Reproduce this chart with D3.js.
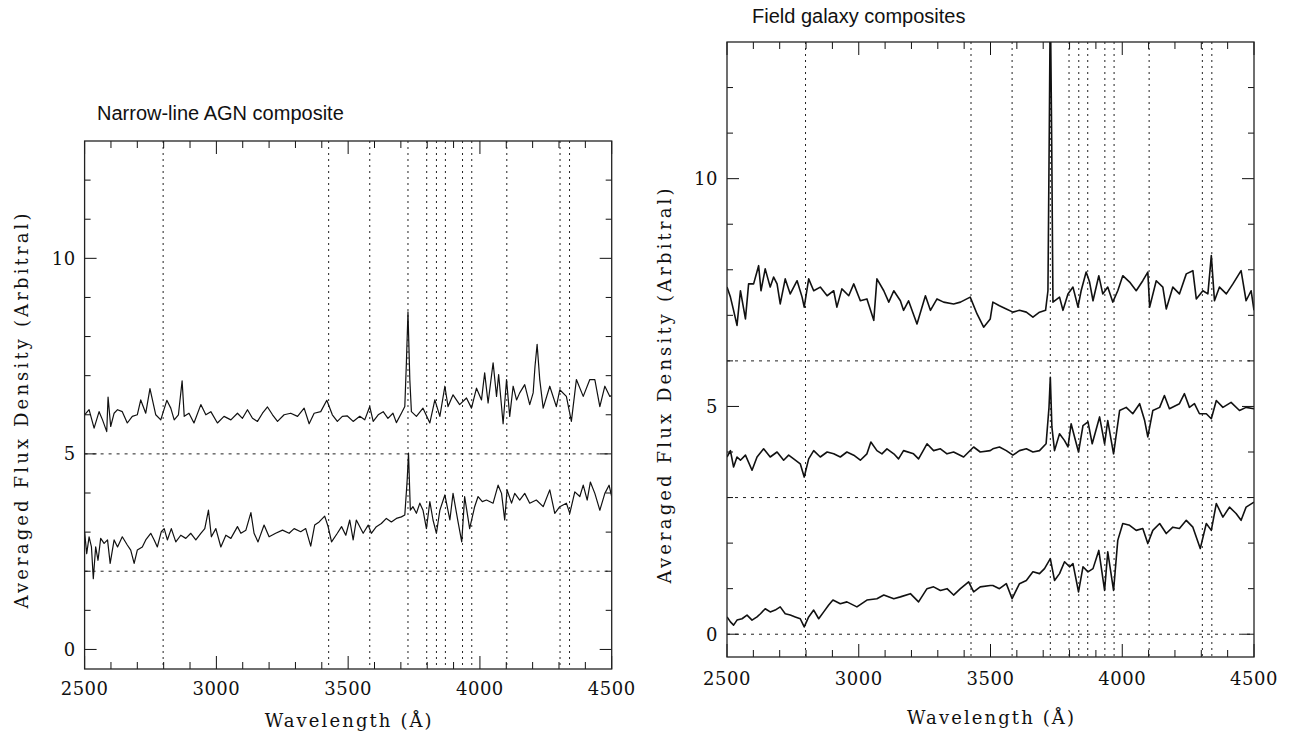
<!DOCTYPE html>
<html><head><meta charset="utf-8">
<script src="https://cdn.jsdelivr.net/npm/d3@7"></script>
<style>body{margin:0;background:#fff}svg{display:block}</style>
</head><body>
<svg id="c" width="1290" height="735"></svg>
<script>
// ---------- data ----------
const lineWavelengths = [2798, 3426, 3582, 3727, 3798, 3835, 3869, 3934, 3969, 4102, 4304, 4340];
const xTickLabels = [2500, 3000, 3500, 4000, 4500];
const yTickLabels = [0, 5, 10];
const agnOffsets = [5, 2];
const fieldOffsets = [6, 3, 0];
const titles = ["Narrow-line AGN composite", "Field galaxy composites"];

const agnUpper = [[2500,6.0],[2517,6.13],[2536,5.66],[2555,6.08],[2568,5.87],[2584,5.57],[2589,6.45],[2599,5.7],[2612,6.04],[2625,6.13],[2643,6.08],[2662,5.79],[2681,5.96],[2700,6.0],[2713,6.38],[2732,6.04],[2748,6.67],[2770,6.0],[2789,5.87],[2812,6.37],[2827,6.17],[2840,5.87],[2856,6.0],[2870,6.87],[2878,5.96],[2896,6.04],[2915,5.79],[2941,6.26],[2960,6.0],[2979,6.08],[3004,5.79],[3029,5.96],[3055,5.87],[3080,6.04],[3099,5.91],[3118,6.13],[3137,5.91],[3156,5.83],[3175,6.04],[3194,6.2],[3213,6.0],[3232,5.83],[3257,6.0],[3282,6.04],[3308,5.96],[3333,6.17],[3352,5.77],[3371,6.04],[3396,6.08],[3419,6.37],[3440,6.0],[3459,5.83],[3478,5.96],[3497,5.97],[3519,5.83],[3544,5.96],[3563,5.87],[3582,6.21],[3595,5.83],[3614,6.0],[3633,6.08],[3651,5.91],[3670,6.04],[3683,5.8],[3702,6.04],[3715,6.21],[3721,7.33],[3727,8.63],[3734,6.9],[3740,6.08],[3759,5.96],[3784,6.17],[3810,5.79],[3829,6.38],[3848,5.96],[3867,6.73],[3879,6.21],[3898,6.51],[3923,6.26],[3949,6.43],[3968,6.17],[3987,6.68],[4006,6.38],[4018,7.07],[4031,6.3],[4050,7.33],[4063,6.47],[4071,7.03],[4088,5.77],[4101,6.9],[4113,5.96],[4126,6.73],[4139,6.38],[4151,6.56],[4170,6.77],[4189,6.26],[4202,6.56],[4209,7.24],[4217,7.8],[4227,6.9],[4240,6.17],[4265,6.73],[4290,6.21],[4303,6.64],[4328,6.47],[4347,5.83],[4366,6.9],[4392,6.47],[4417,6.9],[4436,6.9],[4455,6.21],[4474,6.73],[4493,6.47],[4500,6.5]];

const agnLower = [[2500,3.0],[2508,2.45],[2517,2.88],[2526,2.62],[2533,1.81],[2542,2.62],[2551,2.28],[2561,2.84],[2574,2.71],[2587,2.8],[2597,2.2],[2612,2.8],[2625,2.62],[2643,2.88],[2662,2.67],[2675,2.54],[2688,2.2],[2700,2.54],[2719,2.62],[2732,2.8],[2751,2.97],[2764,2.8],[2776,2.62],[2791,3.01],[2802,3.09],[2814,2.8],[2829,3.09],[2846,2.75],[2865,2.92],[2884,2.84],[2903,2.97],[2922,2.8],[2941,2.97],[2956,3.09],[2970,3.56],[2981,2.88],[2998,3.09],[3017,2.62],[3036,2.92],[3055,2.84],[3080,3.14],[3093,2.97],[3112,3.05],[3131,3.5],[3143,2.97],[3158,2.75],[3181,3.18],[3200,2.88],[3225,2.97],[3251,3.05],[3276,2.97],[3295,3.09],[3320,3.01],[3339,3.09],[3358,2.64],[3373,3.18],[3390,3.26],[3411,3.41],[3424,3.14],[3437,2.75],[3459,2.97],[3475,3.14],[3491,2.92],[3506,3.31],[3519,2.8],[3531,3.31],[3557,2.97],[3576,3.18],[3588,2.97],[3607,3.14],[3626,3.22],[3645,3.35],[3664,3.26],[3683,3.35],[3702,3.39],[3715,3.44],[3724,4.33],[3729,5.02],[3736,3.56],[3746,3.65],[3759,3.48],[3772,3.74],[3784,3.56],[3797,3.09],[3810,3.78],[3822,3.31],[3835,2.97],[3848,3.56],[3867,3.95],[3886,3.31],[3898,3.99],[3917,3.26],[3931,2.75],[3942,3.91],[3961,3.09],[3980,3.65],[3993,3.91],[4009,3.78],[4025,3.82],[4050,3.74],[4069,4.2],[4082,3.99],[4094,3.31],[4103,4.08],[4120,3.74],[4132,3.99],[4151,3.82],[4170,3.99],[4189,3.74],[4214,3.82],[4240,3.65],[4265,4.08],[4284,3.48],[4303,3.65],[4328,3.74],[4341,3.48],[4360,4.03],[4379,3.91],[4392,4.2],[4407,3.82],[4419,4.28],[4436,3.99],[4455,3.56],[4474,3.99],[4490,4.2],[4500,3.91]];

const fieldUpper = [[2500,7.62],[2513,7.4],[2525,7.11],[2538,6.78],[2551,7.54],[2570,6.92],[2582,7.69],[2601,7.69],[2620,8.09],[2629,7.54],[2645,8.02],[2664,7.62],[2677,7.84],[2690,7.69],[2702,7.25],[2721,7.8],[2740,7.47],[2766,7.76],[2785,7.4],[2793,7.18],[2810,7.8],[2829,7.54],[2854,7.62],[2880,7.43],[2905,7.54],[2917,7.18],[2936,7.58],[2962,7.43],[2981,7.69],[3006,7.32],[3031,7.36],[3057,6.89],[3069,7.8],[3095,7.54],[3114,7.29],[3133,7.54],[3158,7.32],[3170,7.11],[3189,7.32],[3221,6.81],[3253,7.43],[3272,7.11],[3297,7.36],[3322,7.29],[3360,7.25],[3386,7.29],[3423,7.4],[3449,7.03],[3474,6.74],[3499,6.92],[3509,7.29],[3534,7.21],[3560,7.14],[3585,7.07],[3610,7.11],[3636,7.07],[3661,6.96],[3686,7.07],[3709,7.11],[3718,7.54],[3723,11.0],[3727,14.0],[3732,11.0],[3737,7.29],[3762,7.4],[3775,7.11],[3794,7.47],[3813,7.62],[3832,7.18],[3844,7.54],[3863,7.95],[3876,7.73],[3889,7.32],[3911,7.87],[3926,7.47],[3945,7.62],[3964,7.29],[3983,7.54],[4002,7.87],[4028,7.73],[4053,7.54],[4078,7.76],[4097,7.95],[4104,7.18],[4129,7.76],[4154,7.62],[4167,7.14],[4192,7.62],[4217,7.47],[4243,7.91],[4268,7.98],[4281,7.36],[4306,7.54],[4325,7.47],[4338,8.31],[4350,7.32],[4369,7.62],[4395,7.47],[4420,7.69],[4451,7.98],[4470,7.32],[4489,7.54],[4500,7.11]];

const fieldMiddle = [[2500,3.89],[2513,4.03],[2525,3.67],[2538,3.89],[2551,3.82],[2570,3.93],[2595,3.6],[2614,3.89],[2639,4.07],[2664,3.89],[2690,4.0],[2715,3.82],[2734,3.93],[2753,3.85],[2778,3.74],[2793,3.45],[2810,3.85],[2829,4.03],[2854,3.89],[2880,4.0],[2905,3.96],[2930,3.89],[2955,4.0],[2981,3.93],[3006,3.82],[3031,3.96],[3046,4.22],[3069,4.03],[3088,3.96],[3107,4.07],[3133,3.96],[3151,3.85],[3170,4.03],[3208,3.96],[3227,3.85],[3259,4.18],[3284,4.03],[3310,4.07],[3335,3.96],[3360,4.0],[3398,3.89],[3436,4.11],[3461,4.0],[3499,4.03],[3509,4.07],[3534,4.11],[3560,4.03],[3585,3.93],[3610,4.03],[3636,4.07],[3661,4.0],[3686,4.03],[3711,4.18],[3722,4.98],[3727,5.64],[3733,4.55],[3743,4.03],[3762,4.4],[3781,4.25],[3794,4.11],[3806,4.62],[3819,4.33],[3834,4.0],[3851,4.58],[3870,4.66],[3886,4.18],[3914,4.77],[3933,4.18],[3945,4.69],[3967,3.96],[3990,4.91],[4015,4.98],[4040,4.84],[4066,5.06],[4085,4.69],[4097,4.33],[4116,4.91],[4142,4.98],[4160,5.24],[4179,4.95],[4217,5.06],[4236,5.28],[4255,4.98],[4274,5.06],[4293,4.84],[4319,4.84],[4338,4.73],[4357,5.13],[4382,4.98],[4413,5.09],[4445,4.91],[4470,4.98],[4500,4.95]];

const fieldLower = [[2500,0.38],[2513,0.27],[2525,0.2],[2538,0.31],[2557,0.34],[2576,0.42],[2595,0.31],[2614,0.38],[2627,0.45],[2645,0.56],[2664,0.49],[2683,0.53],[2702,0.6],[2721,0.45],[2740,0.42],[2759,0.38],[2778,0.34],[2793,0.16],[2810,0.38],[2829,0.53],[2848,0.34],[2867,0.49],[2886,0.64],[2902,0.75],[2930,0.67],[2955,0.71],[2993,0.6],[3031,0.75],[3069,0.78],[3095,0.86],[3133,0.78],[3158,0.82],[3196,0.89],[3227,0.71],[3259,1.0],[3284,1.04],[3310,0.96],[3335,1.0],[3360,0.86],[3386,1.0],[3417,1.15],[3436,0.93],[3461,1.04],[3499,1.07],[3509,1.07],[3534,1.0],[3560,1.11],[3582,0.78],[3610,1.11],[3636,1.18],[3661,1.37],[3686,1.33],[3705,1.44],[3727,1.66],[3743,1.18],[3762,1.33],[3781,1.59],[3800,1.48],[3813,1.55],[3834,0.93],[3851,1.48],[3870,1.37],[3889,1.44],[3911,1.84],[3933,0.96],[3945,1.81],[3967,0.96],[3983,2.06],[4002,2.43],[4028,2.39],[4053,2.28],[4078,2.32],[4097,1.99],[4116,2.28],[4142,2.43],[4167,2.21],[4192,2.35],[4217,2.32],[4243,2.5],[4268,2.35],[4296,1.88],[4319,2.43],[4338,2.28],[4357,2.87],[4382,2.57],[4407,2.79],[4432,2.65],[4451,2.5],[4470,2.79],[4500,2.9]];

// ---------- drawing ----------
const svg = d3.select("#c");
const serif = "'DejaVu Serif', serif";
const sans = "'Liberation Sans', Arial, sans-serif";

const panels = [
  {x0:84.6, x1:611.7, y0:141, y1:669, series:[agnUpper, agnLower], offsets:agnOffsets, title:titles[0],
   titleX:97, titleY:120, tickY:695, xlabY:727, ylabX:28, ylabY:411, lw:1.2, id:"a"},
  {x0:727, x1:1254, y0:42, y1:657, series:[fieldUpper, fieldMiddle, fieldLower], offsets:fieldOffsets, title:titles[1],
   titleX:752, titleY:23, tickY:685, xlabY:724, ylabX:671, ylabY:386, lw:1.6, id:"b"}
];

panels.forEach(p => {
  const x = d3.scaleLinear().domain([2500, 4500]).range([p.x0, p.x1]);
  const y = d3.scaleLinear().domain([-0.5, 13]).range([p.y1, p.y0]);
  const g = svg.append("g");

  g.append("clipPath").attr("id", "clip" + p.id).append("rect")
    .attr("x", p.x0).attr("y", p.y0).attr("width", p.x1 - p.x0).attr("height", p.y1 - p.y0);

  g.selectAll(".vl").data(lineWavelengths).enter().append("line")
    .attr("x1", d => x(d)).attr("x2", d => x(d)).attr("y1", p.y0).attr("y2", p.y1)
    .attr("stroke", "#222").attr("stroke-width", 1).attr("stroke-dasharray", "2,4");
  g.selectAll(".hl").data(p.offsets).enter().append("line")
    .attr("x1", p.x0).attr("x2", p.x1).attr("y1", d => y(d)).attr("y2", d => y(d))
    .attr("stroke", "#222").attr("stroke-width", 1).attr("stroke-dasharray", "3,5");

  const line = d3.line().x(d => x(d[0])).y(d => y(d[1]));
  p.series.forEach(s => {
    g.append("path").attr("d", line(s)).attr("fill", "none")
      .attr("stroke", "#111").attr("stroke-width", p.lw).attr("stroke-linejoin", "round")
      .attr("clip-path", "url(#clip" + p.id + ")");
  });

  d3.range(2500, 4501, 100).forEach(v => {
    const len = v % 500 === 0 ? 13 : 7;
    g.append("line").attr("x1", x(v)).attr("x2", x(v)).attr("y1", p.y1).attr("y2", p.y1 - len)
      .attr("stroke", "#111").attr("stroke-width", 1);
    g.append("line").attr("x1", x(v)).attr("x2", x(v)).attr("y1", p.y0).attr("y2", p.y0 + len)
      .attr("stroke", "#111").attr("stroke-width", 1);
  });
  d3.range(0, 13, 1).forEach(v => {
    const len = v % 5 === 0 ? 12 : 6;
    g.append("line").attr("x1", p.x0).attr("x2", p.x0 + len).attr("y1", y(v)).attr("y2", y(v))
      .attr("stroke", "#111").attr("stroke-width", 1);
    g.append("line").attr("x1", p.x1).attr("x2", p.x1 - len).attr("y1", y(v)).attr("y2", y(v))
      .attr("stroke", "#111").attr("stroke-width", 1);
  });

  g.append("rect").attr("x", p.x0).attr("y", p.y0).attr("width", p.x1 - p.x0).attr("height", p.y1 - p.y0)
    .attr("fill", "none").attr("stroke", "#222").attr("stroke-width", 1.3);

  g.selectAll(".xt").data(xTickLabels).enter().append("text")
    .attr("x", d => x(d)).attr("y", p.tickY).attr("text-anchor", "middle")
    .attr("font-family", serif).attr("font-size", 18).attr("letter-spacing", 0.5).attr("fill", "#111")
    .text(d => d);
  g.selectAll(".yt").data(yTickLabels).enter().append("text")
    .attr("x", p.x0 - 9).attr("y", d => y(d) + 6.5).attr("text-anchor", "end")
    .attr("font-family", serif).attr("font-size", 18).attr("letter-spacing", 0.5).attr("fill", "#111")
    .text(d => d);

  g.append("text").attr("x", (p.x0 + p.x1) / 2).attr("y", p.xlabY).attr("text-anchor", "middle")
    .attr("font-family", serif).attr("font-size", 18).attr("textLength", 167).attr("lengthAdjust", "spacing")
    .attr("fill", "#111").text("Wavelength (Å)");
  g.append("text").attr("transform", `translate(${p.ylabX},${p.ylabY}) rotate(-90)`)
    .attr("text-anchor", "middle").attr("font-family", serif).attr("font-size", 18)
    .attr("textLength", 395).attr("lengthAdjust", "spacing").attr("fill", "#111")
    .text("Averaged Flux Density (Arbitral)");

  g.append("text").attr("x", p.titleX).attr("y", p.titleY)
    .attr("font-family", sans).attr("font-size", 20).attr("fill", "#111").text(p.title);
});
</script>
</body></html>
